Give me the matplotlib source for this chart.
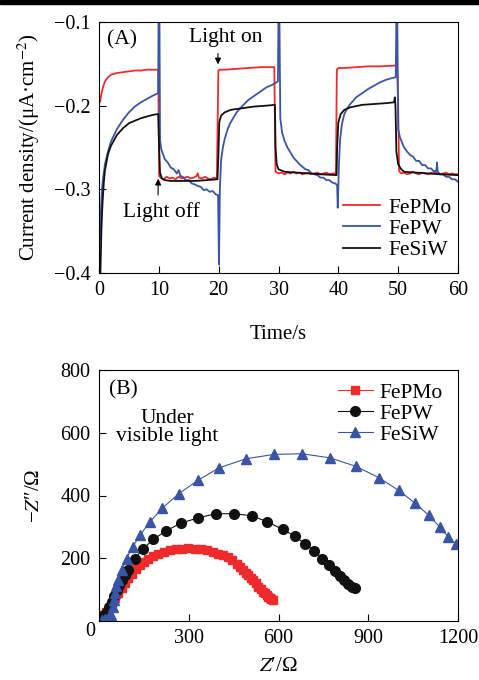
import matplotlib
matplotlib.use('Agg')
import matplotlib.pyplot as plt
from matplotlib.patches import Rectangle

plt.rcParams['font.family'] = ['Liberation Serif', 'DejaVu Serif']
plt.rcParams['mathtext.fontset'] = 'stix'

# ---- (A) photocurrent vs time ----
timeRed = [0.2, 0.4, 0.7, 1.0, 1.5, 2, 3, 4, 5, 6, 7, 8, 9, 9.9,
           10.05, 10.3, 10.8, 11.3, 11.8, 12.3, 12.8, 13.3, 13.8, 14.3, 14.8, 15.3, 15.8, 16.3, 16.5, 16.7,
           17.2, 17.7, 18.2, 18.7, 19.2, 19.7,
           19.95, 20.2, 21, 23, 25, 27, 29.3,
           29.5, 30, 30.5, 31, 31.5, 32, 32.5, 33, 33.5, 34, 34.5, 35, 35.5, 36, 36.5, 37, 37.5, 38,
           38.5, 39, 39.6,
           39.75, 40, 41, 43, 45, 47, 49.6,
           49.8, 50.0, 50.15,
           50.5, 51, 51.5, 52, 52.5, 53, 53.5, 54, 54.5, 55, 55.5, 56, 56.5, 57, 57.5, 58, 58.5, 59, 59.5, 60]
currRed = [-0.195, -0.186, -0.177, -0.171, -0.166, -0.163, -0.161, -0.160, -0.159, -0.158, -0.158, -0.157, -0.157, -0.157,
           -0.284, -0.286, -0.288, -0.285, -0.287, -0.286, -0.288, -0.285, -0.287, -0.286, -0.285, -0.287, -0.286, -0.284, -0.281, -0.286,
           -0.287, -0.285, -0.287, -0.288, -0.286, -0.287,
           -0.158, -0.157, -0.157, -0.156, -0.155, -0.154, -0.154,
           -0.279, -0.281, -0.280, -0.282, -0.280, -0.281, -0.279, -0.281, -0.280, -0.282, -0.281, -0.280, -0.282, -0.281, -0.280, -0.282, -0.281, -0.280,
           -0.282, -0.281, -0.281,
           -0.157, -0.155, -0.155, -0.154, -0.153, -0.153, -0.152,
           -0.145, -0.200, -0.278,
           -0.281, -0.280, -0.282, -0.281, -0.279, -0.281, -0.282, -0.280, -0.281, -0.282, -0.280, -0.281, -0.279, -0.282, -0.281, -0.280, -0.282, -0.281, -0.282, -0.282]

timeBlue = [0.2, 0.3, 0.5, 0.7, 1.0, 1.5, 2, 3, 4, 5, 6, 7, 8, 9, 9.9,
            9.95, 10.1, 10.2, 10.4, 10.7, 11, 11.5, 12, 12.5, 13, 13.3, 13.6, 14, 14.5, 15, 15.5, 16, 16.5, 17,
            17.5, 18, 18.5, 19, 19.5, 19.9,
            20.05, 20.2, 20.4, 20.7, 21, 21.5, 22, 23, 24, 25, 26, 27, 28, 29, 29.9,
            30.0, 30.15, 30.3, 30.6, 31, 31.5, 32, 32.5, 33, 33.5, 34, 34.5, 35, 35.5, 36, 36.5, 37, 37.5, 38,
            38.5, 39, 39.5, 39.8,
            39.9, 40.1, 40.3, 40.6, 41, 41.5, 42, 43, 44, 45, 46, 47, 48, 49, 49.6,
            49.7, 49.85, 50.0, 50.3, 50.7, 51, 51.5, 52, 52.5, 53, 53.5, 54, 54.5, 55, 55.5, 56, 56.4, 56.5,
            56.6, 57, 57.5, 58, 58.5, 59, 59.5, 60]
currBlue = [-0.36, -0.33, -0.30, -0.285, -0.27, -0.255, -0.243, -0.228, -0.217, -0.208, -0.201, -0.196, -0.192, -0.188, -0.185,
            -0.09, -0.09, -0.24, -0.252, -0.258, -0.264, -0.268, -0.274, -0.276, -0.281, -0.277, -0.284, -0.285, -0.289, -0.289, -0.293, -0.294, -0.296, -0.297,
            -0.301, -0.300, -0.303, -0.302, -0.306, -0.307,
            -0.39, -0.30, -0.265, -0.25, -0.24, -0.228, -0.22, -0.208, -0.200, -0.193, -0.188, -0.183, -0.178, -0.175, -0.171,
            -0.09, -0.09, -0.215, -0.232, -0.242, -0.250, -0.256, -0.262, -0.266, -0.270, -0.273, -0.276, -0.277, -0.281, -0.282, -0.283, -0.286, -0.286, -0.289,
            -0.289, -0.292, -0.293, -0.295,
            -0.322, -0.27, -0.24, -0.222, -0.210, -0.203, -0.198, -0.190, -0.185, -0.180, -0.176, -0.172, -0.169, -0.167, -0.166,
            -0.09, -0.09, -0.228, -0.238, -0.245, -0.250, -0.255, -0.259, -0.261, -0.266, -0.266, -0.271, -0.271, -0.275, -0.275, -0.279, -0.277, -0.268,
            -0.279, -0.282, -0.282, -0.285, -0.285, -0.288, -0.288, -0.291]

timeBlack = [0.2, 0.3, 0.4, 0.5, 0.6, 0.8, 1.0, 1.5, 2, 3, 4, 5, 6, 7, 8, 9, 9.9,
             10.05, 10.2, 10.5, 11, 12, 14, 16, 18, 19.8,
             19.95, 20.1, 20.4, 21, 22, 24, 26, 28, 29.4,
             29.5, 29.7, 30, 31, 33, 35, 37, 39.7,
             39.8, 40, 40.4, 41, 42, 44, 46, 48, 49.3, 49.45, 49.55,
             49.7, 50, 50.5, 51, 53, 55, 57, 60]
currBlack = [-0.41, -0.38, -0.35, -0.33, -0.315, -0.292, -0.277, -0.258, -0.248, -0.235, -0.227, -0.221, -0.218, -0.215, -0.213, -0.211, -0.210,
             -0.25, -0.28, -0.287, -0.289, -0.290, -0.290, -0.290, -0.289, -0.288,
             -0.26, -0.22, -0.212, -0.208, -0.205, -0.203, -0.201, -0.200, -0.199,
             -0.25, -0.27, -0.276, -0.279, -0.280, -0.281, -0.282, -0.283,
             -0.25, -0.22, -0.210, -0.205, -0.202, -0.199, -0.198, -0.197, -0.196, -0.190, -0.200,
             -0.255, -0.270, -0.276, -0.279, -0.280, -0.281, -0.282, -0.283]

# ---- (B) Nyquist plots ----
zReRed = [5, 15, 25, 33, 42, 53, 65, 76, 87, 98, 109, 123, 137, 151, 165, 181, 198, 217, 237, 256, 276, 298,
          321, 340, 360, 380, 399, 416, 432, 446, 460, 471, 482, 491, 499, 508, 516, 524, 532, 540, 549, 555,
          560, 566, 571, 576, 580]
zImRed = [12, 20, 30, 42, 56, 72, 88, 104, 120, 136, 151, 165, 178, 189, 199, 208, 215, 221, 226, 229, 231, 232,
          231, 229, 226, 221, 215, 210, 204, 194, 183, 173, 162, 154, 146, 138, 130, 120, 109, 101, 93, 88,
          83, 77, 72, 69, 67]

zReBlack = [8, 18, 26, 34, 42, 50, 59, 67, 76, 87, 98, 120, 148, 182, 223, 274, 332, 391, 452, 512, 563, 614,
            655, 688, 719, 747, 769, 788, 805, 820, 833, 846, 855]
zImBlack = [8, 18, 30, 45, 61, 80, 99, 115, 130, 146, 162, 199, 231, 260, 287, 312, 329, 342, 342, 335, 316, 292,
            270, 247, 224, 199, 177, 159, 143, 130, 118, 109, 104]

zReBlue = [10, 20, 30, 40, 46, 50, 53, 58, 65, 76, 92, 112, 137, 170, 212, 267, 330, 401, 491, 585, 679, 772,
           859, 935, 1002, 1056, 1102, 1139, 1167, 1193]
zImBlue = [3, 6, 10, 20, 45, 67, 90, 110, 130, 162, 199, 236, 273, 316, 360, 406, 448, 488, 517, 531, 533, 520,
           493, 457, 416, 376, 337, 300, 268, 245]

red = '#ee2a2a'
blue = '#3a55a6'
black = '#111111'

fig = plt.figure(figsize=(4.79, 6.8), dpi=100)
fig.add_artist(Rectangle((0, 1 - 4 / 680), 1, 4 / 680, transform=fig.transFigure, color='black'))

axA = fig.add_axes([99 / 479, 1 - 273 / 680, 359 / 479, 251 / 680])
axB = fig.add_axes([99 / 479, 1 - 621 / 680, 359 / 479, 251 / 680])

axA.plot(timeRed, currRed, color=red, lw=1.3, label='FePMo')
axA.plot(timeBlue, currBlue, color=blue, lw=1.3, label='FePW')
axA.plot(timeBlack, currBlack, color=black, lw=1.3, label='FeSiW')
axA.set_xlim(0, 60)
axA.set_ylim(-0.4, -0.1)
axA.set_xticks([0, 10, 20, 30, 40, 50, 60])
axA.set_yticks([-0.4, -0.3, -0.2, -0.1])
axA.set_yticklabels(['\u22120.4', '\u22120.3', '\u22120.2', '\u22120.1'])
axA.tick_params(direction='in', length=5, labelsize=14.5, top=False, right=False, pad=6)
axA.set_xlabel('Time/s', fontsize=15, labelpad=18)
axA.set_ylabel('Current density/(\u03bcA\u00b7cm$^{-2}$)', fontsize=15, labelpad=9)
axA.text(0.064, 0.928, '(A)', transform=axA.transAxes, fontsize=15.5, ha='center', va='center')
axA.annotate('Light on', xy=(19.9, -0.154), xytext=(21.1, -0.118), fontsize=15.5, ha='center', va='center',
             arrowprops=dict(arrowstyle='-|>', lw=0.8, color='black', mutation_scale=9, shrinkA=3,
                             relpos=(0.4, 0.0)))
axA.annotate('Light off', xy=(9.9, -0.284), xytext=(10.5, -0.327), fontsize=15.5, ha='center', va='center',
             arrowprops=dict(arrowstyle='-|>', lw=0.8, color='black', mutation_scale=9, shrinkA=3,
                             relpos=(0.45, 1.0)))
axA.legend(loc='upper left', bbox_to_anchor=(0.68, 0.30), frameon=False, fontsize=15.5, handlelength=1.7,
           handletextpad=0.4, labelspacing=0.05, borderpad=0, borderaxespad=0)

axB.plot(zReRed, zImRed, color=red, lw=0.8, marker='s', ms=6, mec=red, mfc=red, label='FePMo')
axB.plot(zReBlack, zImBlack, color=black, lw=0.8, marker='o', ms=7, mec=black, mfc=black, label='FePW')
axB.plot(zReBlue, zImBlue, color=blue, lw=0.8, marker='^', ms=7.5, mec=blue, mfc=blue, label='FeSiW')
axB.set_xlim(0, 1200)
axB.set_ylim(0, 800)
axB.set_xticks([300, 600, 900, 1200])
axB.set_yticks([200, 400, 600, 800])
axB.tick_params(direction='in', length=5, labelsize=14.5, top=False, right=False, pad=6)
fig.text(90 / 479, 1 - 632 / 680, '0', fontsize=14.5, ha='center', va='center')
axB.set_xlabel('$Z$\u2032/\u03a9', fontsize=15, labelpad=6)
axB.set_ylabel('\u2212$Z$\u2033/\u03a9', fontsize=15, labelpad=12)
axB.text(0.067, 0.92, '(B)', transform=axB.transAxes, fontsize=15.5, ha='center', va='center')
axB.text(0.19, 0.77, 'Under\nvisible light', transform=axB.transAxes, fontsize=15.5, ha='center', va='center',
         linespacing=0.95)
axB.legend(loc='upper left', bbox_to_anchor=(0.666, 0.95), frameon=False, fontsize=15.5, handlelength=1.6,
           handletextpad=0.3, labelspacing=0.05, borderpad=0, borderaxespad=0)

plt.savefig('out.png', dpi=100)
